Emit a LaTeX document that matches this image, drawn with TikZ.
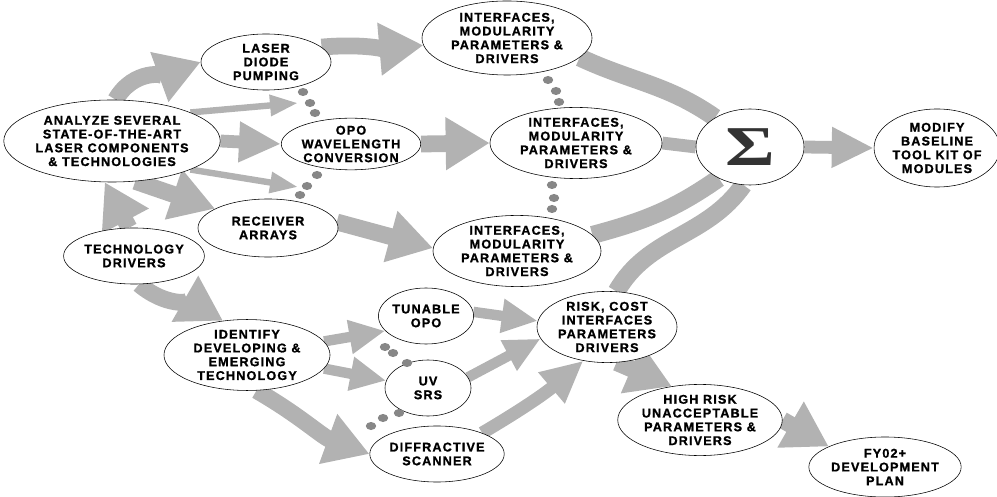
\documentclass[tikz,border=0pt]{standalone}
\usepackage{fontspec}
\newfontfamily\labelfont[LetterSpace=9, BoldFeatures={FakeBold=1.2}]{Liberation Sans}
\newfontfamily\sigmafont{Liberation Serif}
\usepackage{tikz}
\usetikzlibrary{
    positioning,
    arrows.meta,
    shapes.geometric,
    backgrounds
}
\definecolor{flowGray}{RGB}{178, 178, 178}
\definecolor{dotGray}{RGB}{135, 135, 135}

\tikzset{
    blob/.style={ellipse, draw, thin, fill=white, align=center, inner sep=0pt,
        font=\labelfont\bfseries\fontsize{9}{9.8}\selectfont},
    sz/.style 2 args={minimum width=#1*0.05cm, minimum height=#2*0.05cm},
    bigflow/.style={draw=flowGray, line width=0.42cm, -{Triangle[length=1.1cm, width=1.25cm]}},
    flow/.style={draw=flowGray, line width=0.32cm, -{Triangle[length=1.05cm, width=0.95cm]}},
    medflow/.style={draw=flowGray, line width=0.26cm, -{Triangle[length=0.9cm, width=0.8cm]}},
    thinflow/.style={draw=flowGray, line width=0.16cm, -{Triangle[length=0.7cm, width=0.5cm]}},
    band/.style={draw=flowGray, line width=0.45cm}
}

\begin{document}
\begin{tikzpicture}[x=0.025cm, y=-0.025cm]
    \useasboundingbox (0,0) rectangle (997,497);

    \node[blob, sz={103}{41}] (analyze) at (112,141) {ANALYZE SEVERAL\\STATE-OF-THE-ART\\LASER COMPONENTS\\\& TECHNOLOGIES};
    \node[blob, sz={65}{28}] (laser) at (266,62) {LASER\\DIODE\\PUMPING};
    \node[blob, sz={60}{23}] (opo) at (351,144) {OPO\\WAVELENGTH\\CONVERSION};
    \node[blob, sz={70}{29}] (receiver) at (268,228) {RECEIVER\\ARRAYS};
    \node[blob, sz={70}{28}] (techdrv) at (134,256) {TECHNOLOGY\\DRIVERS};
    \node[blob, sz={83}{33}] (identify) at (247,355) {IDENTIFY\\DEVELOPING \&\\EMERGING\\TECHNOLOGY};
    \node[blob, sz={46}{28}] (tunable) at (426,316) {TUNABLE\\OPO};
    \node[blob, sz={43}{28}] (uvsrs) at (428,388) {UV\\SRS};
    \node[blob, sz={57}{28}] (diffr) at (437,454) {DIFFRACTIVE\\SCANNER};
    \node[blob, sz={85}{37}] (ifaceA) at (507,38) {INTERFACES,\\MODULARITY\\PARAMETERS \&\\DRIVERS};
    \node[blob, sz={86}{34}] (ifaceB) at (576,143) {INTERFACES,\\MODULARITY\\PARAMETERS \&\\DRIVERS};
    \node[blob, sz={84}{33}] (ifaceC) at (517,251) {INTERFACES,\\MODULARITY\\PARAMETERS \&\\DRIVERS};
    \node[blob, sz={54}{38}] (sigma) at (750,147) {\scalebox{1.35}[1]{\sigmafont\fontsize{40}{40}\selectfont\color{black!80}Σ}};
    \node[blob, sz={59}{39}] (modify) at (937,148) {MODIFY\\BASELINE\\TOOL KIT OF\\MODULES};
    \node[blob, sz={70}{34}] (risk) at (607,327) {RISK, COST\\INTERFACES\\PARAMETERS\\DRIVERS};
    \node[blob, sz={75}{32}] (highrisk) at (700,420) {HIGH RISK\\UNACCEPTABLE\\PARAMETERS \&\\DRIVERS};
    \node[blob, sz={75}{30}] (plan) at (885,467) {FY02+\\DEVELOPMENT\\PLAN};

    \coordinate (dotsUp) at (298,103);
    \coordinate (dotsLow) at (298,187);

    \begin{scope}[on background layer]
        \draw[bigflow] (analyze.85) to[out=60, in=200] (laser.west);
        \draw[thinflow] (analyze.20) -- (dotsUp);
        \draw[flow] (analyze.east) -- (opo.west);
        \draw[thinflow] (analyze.-20) -- (dotsLow);
        \draw[bigflow] (analyze.-60) -- (receiver.160);
        \draw[bigflow] (techdrv.100) -- (analyze.-100);
        \draw[bigflow] (laser.15) to[out=5, in=185] (ifaceA.185);
        \draw[bigflow] (opo.east) -- (ifaceB.west);
        \draw[bigflow] (receiver.5) -- (ifaceC.178);

        \draw[band] (ifaceA.-15) to[out=-25, in=145] (sigma.140);
        \draw[band, line width=0.32cm] (ifaceB.east) -- (sigma.west);
        \draw[band] (ifaceC.12) to[out=15, in=215] (sigma.-135);
        \draw[band] (risk.75) to[out=60, in=235] (sigma.-100);
        \draw[flow] (sigma.east) -- (modify.west);

        \draw[bigflow] (techdrv.-80) to[out=-40, in=150] (identify.125);
        \draw[medflow] (identify.10) -- (tunable.200);
        \draw[medflow] (identify.-10) -- (uvsrs.170);
        \draw[bigflow] (identify.-75) to[out=-30, in=160] (diffr.west);
        \draw[medflow] (tunable.5) -- (risk.175);
        \draw[medflow] (uvsrs.15) -- (risk.190);
        \draw[flow] (diffr.25) to[bend right=5] (risk.-125);
        \draw[bigflow] (risk.-75) -- (highrisk.130);
        \draw[bigflow] (highrisk.east) -- (plan.160);
    \end{scope}

    \foreach \p in {(303,92),(310,103),(315,113),(317,175),(307,186),(300,195),
                    (548,80),(556,91),(559,102),(552,185),(554,198),(552,209),
                    (385,347),(393,353),(407,363),(399,413),(383,418),(371,426)}
        \fill[dotGray] \p ellipse [x radius=0.13cm, y radius=0.1cm];
\end{tikzpicture}
\end{document}
